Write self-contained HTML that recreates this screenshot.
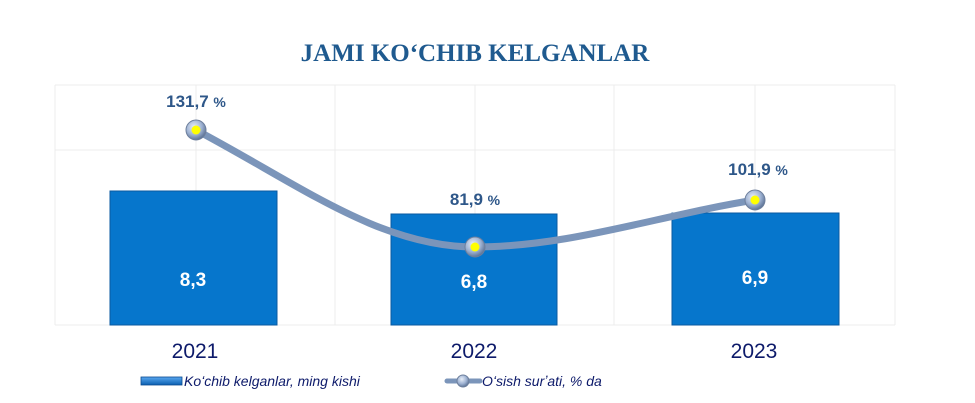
<!DOCTYPE html>
<html><head><meta charset="utf-8"><style>
body{margin:0;background:#fff;}
svg{display:block}
</style></head><body>
<svg width="975" height="403" xmlns="http://www.w3.org/2000/svg">
<defs>
<radialGradient id="m" cx="40%" cy="35%" r="65%"><stop offset="0" stop-color="#e8eef8"/><stop offset="0.6" stop-color="#9fb3d3"/><stop offset="1" stop-color="#5f7598"/></radialGradient>
<linearGradient id="lg" x1="0" y1="0" x2="0" y2="1"><stop offset="0" stop-color="#5aa8f0"/><stop offset="1" stop-color="#0a5fb0"/></linearGradient>
</defs>
<rect width="975" height="403" fill="#fff"/>
<text x="475" y="61" text-anchor="middle" font-family="Liberation Serif, serif" font-weight="bold" font-size="25" fill="#1f5a8f">JAMI KOʻCHIB KELGANLAR</text>
<g stroke="#ececec" stroke-width="1">
<line x1="55" y1="85" x2="895" y2="85"/><line x1="55" y1="150" x2="895" y2="150"/><line x1="55" y1="325" x2="895" y2="325"/>
<line x1="55" y1="85" x2="55" y2="325"/><line x1="196" y1="85" x2="196" y2="325"/><line x1="335" y1="85" x2="335" y2="325"/><line x1="475" y1="85" x2="475" y2="325"/><line x1="614" y1="85" x2="614" y2="325"/><line x1="755" y1="85" x2="755" y2="325"/><line x1="895" y1="85" x2="895" y2="325"/>
</g>
<g>
<rect x="110" y="191" width="167" height="134" fill="#0676cc" stroke="#0a5aa0"/>
<rect x="391" y="214" width="166" height="111" fill="#0676cc" stroke="#0a5aa0"/>
<rect x="672" y="213" width="167" height="112" fill="#0676cc" stroke="#0a5aa0"/>
</g>
<g font-family="Liberation Sans, sans-serif" font-weight="bold" font-size="19" fill="#fff" text-anchor="middle">
<text x="193" y="286">8,3</text><text x="474" y="288">6,8</text><text x="755" y="284">6,9</text>
</g>
<path d="M196,130 C300,185 380,247 475,247 C570,247 660,215 755,200" fill="none" stroke="#7b95ba" stroke-width="7" stroke-linecap="round"/>
<g stroke="#6d7f9c" stroke-width="1">
<circle cx="196" cy="130" r="10" fill="url(#m)"/><circle cx="475" cy="247" r="10" fill="url(#m)"/><circle cx="755" cy="200" r="10" fill="url(#m)"/>
</g>
<g fill="#ffff00"><circle cx="196" cy="130" r="4.5"/><circle cx="475" cy="247" r="4.5"/><circle cx="755" cy="200" r="4.5"/></g>
<g font-family="Liberation Sans, sans-serif" font-weight="bold" font-size="17" fill="#2e5789" text-anchor="middle">
<text x="196" y="107">131,7 <tspan font-size="14">%</tspan></text>
<text x="475" y="205">81,9 <tspan font-size="14">%</tspan></text>
<text x="758" y="175">101,9 <tspan font-size="14">%</tspan></text>
</g>
<g font-family="Liberation Sans, sans-serif" font-size="21" fill="#0d1a6a" text-anchor="middle">
<text x="195" y="358">2021</text><text x="474" y="358">2022</text><text x="754" y="358">2023</text>
</g>
<rect x="141" y="377" width="41" height="8" fill="url(#lg)" stroke="#0a4a90" stroke-width="0.8"/>
<text x="184" y="386" font-family="Liberation Sans, sans-serif" font-style="italic" font-size="14" fill="#0d1a6a">Koʻchib kelganlar, ming kishi</text>
<line x1="447" y1="381" x2="480" y2="381" stroke="#7b95ba" stroke-width="5" stroke-linecap="round"/>
<circle cx="463" cy="381" r="6" fill="url(#m)" stroke="#6d7f9c"/>
<text x="482" y="386" font-family="Liberation Sans, sans-serif" font-style="italic" font-size="14" fill="#0d1a6a">Oʻsish surʼati, % da</text>
</svg>
</body></html>
